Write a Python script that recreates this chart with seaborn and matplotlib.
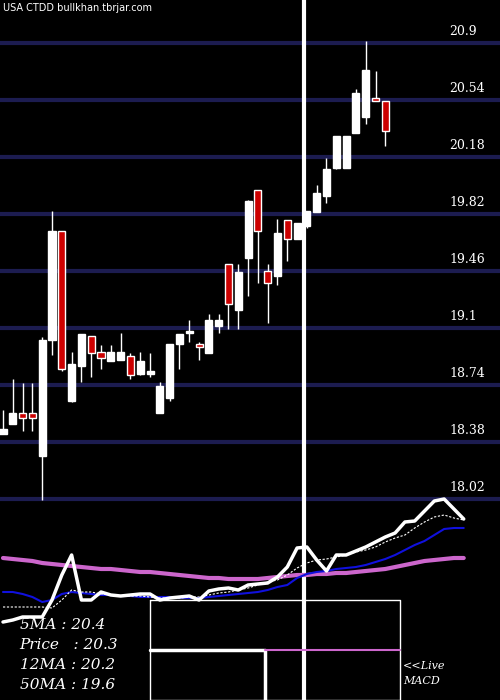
import matplotlib
matplotlib.use("Agg")
import matplotlib.pyplot as plt
import seaborn as sns
import numpy as np
import pandas as pd

opens  = [18.43,18.49,18.56,18.56,18.29,19.02,19.71,18.64,18.86,19.05,18.95,18.89,18.90,18.92,18.81,18.81,18.56,18.66,19.00,19.07,
          19.00,18.94,19.11,19.50,19.21,19.54,19.97,19.46,19.43,19.78,19.66,19.74,19.83,19.93,20.11,20.11,20.33,20.43,20.55,20.53]
closes = [18.46,18.56,18.53,18.53,19.02,19.71,18.84,18.87,19.06,18.94,18.91,18.95,18.95,18.80,18.89,18.83,18.73,19.00,19.06,19.07,
          18.98,19.15,19.15,19.25,19.45,19.90,19.71,19.38,19.70,19.66,19.76,19.84,19.95,20.10,20.31,20.31,20.58,20.73,20.53,20.34]
highs  = [18.58,18.78,18.75,18.75,19.04,19.84,19.71,18.95,19.06,19.05,18.99,18.99,19.07,18.94,18.95,18.94,18.76,19.00,19.06,19.15,
          19.01,19.19,19.19,19.50,19.50,19.91,19.97,19.50,19.79,19.78,19.76,19.84,20.00,20.17,20.31,20.31,20.61,20.91,20.72,20.53]
lows   = [18.43,18.49,18.45,18.45,18.01,18.93,18.83,18.63,18.76,18.79,18.84,18.89,18.90,18.78,18.80,18.79,18.56,18.64,18.84,19.01,
          18.90,18.94,19.07,19.09,19.09,19.30,19.38,19.13,19.37,19.52,19.66,19.73,19.83,19.89,20.10,20.11,20.33,20.39,20.53,20.25]
grid_levels = [20.9,20.54,20.18,19.82,19.46,19.1,18.74,18.38,18.02]

price_line = [78,80,83,83,83,100,125,145,100,100,108,105,104,105,106,106,100,102,103,104,100,109,111,112,110,115,116,117,123,133,152,153,140,129,145,145,149,153,158,163,167,178,179,189,199,201,191,181]
ma12_line = [93,93,93,93,93,92,100,110,108,108,106,105,104,104,104,103,102,102,102,103,103,105,107,108,110,112,115,118,120,125,132,137,140,141,143,145,148,150,153,158,162,165,172,178,183,185,182,180]
ma26_line = [108,108,106,103,98,100,106,108,107,106,105,105,104,104,103,103,103,103,102,102,102,103,104,105,106,107,108,110,113,115,122,126,128,129,131,132,133,135,138,141,145,150,155,159,165,171,172,172]
ma50_line = [142,141,140,139,137,136,135,134,133,132,131,131,130,129,128,128,127,126,125,124,123,122,122,121,121,121,121,122,123,124,125,125,126,126,127,127,128,129,130,131,133,135,137,139,140,141,142,142]

sns.set_style("dark", {"axes.facecolor": "black", "figure.facecolor": "black"})
fig = plt.figure(figsize=(5, 7), dpi=100)
fig.patch.set_facecolor("black")
ax = fig.add_axes([0, 0, 1, 1])
ax.set_facecolor("black")
xl = (-0.306, 50.7)
ax.set_xlim(*xl)
ax.set_ylim(16.75, 21.17)
ax.axis("off")

for g in grid_levels:
    ax.axhline(g, color="#1c1c50", lw=3, zorder=1)
    ax.text(45.5, g + 0.03, f"{g:g}", color="white", fontsize=9, family="DejaVu Serif", va="bottom", zorder=5)

x = np.arange(len(opens))
for i in x:
    o, c, h, l = opens[i], closes[i], highs[i], lows[i]
    ax.vlines(i, l, h, color="white", lw=1, zorder=3)
    lo, hi = min(o, c), max(o, c)
    col = "white" if c >= o else "#cc0000"
    ax.bar(i, max(hi - lo, 0.008), bottom=lo, width=0.72, color=col, edgecolor="white", lw=1, zorder=4)

ax.axvline(30.7, color="white", lw=3, zorder=6)

ax2 = fig.add_axes([0, 0, 1, 1])
ax2.patch.set_alpha(0)
ax2.set_xlim(*xl)
ax2.set_ylim(0, 700)
ax2.axis("off")
idx = np.arange(len(price_line))
df = pd.DataFrame({"i": idx, "p": price_line, "m12": ma12_line, "m26": ma26_line, "m50": ma50_line})
sns.lineplot(data=df, x="i", y="m50", ax=ax2, color="#cc66cc", lw=3)
sns.lineplot(data=df, x="i", y="m26", ax=ax2, color="#1010dd", lw=1.5)
sns.lineplot(data=df, x="i", y="m12", ax=ax2, color="white", lw=0.8, linestyle=(0, (2, 1.5)))
sns.lineplot(data=df, x="i", y="p", ax=ax2, color="white", lw=2.5)

ax2.plot([15, 40.5, 40.5, 15, 15], [100, 100, 0, 0, 100], color="white", lw=1)
ax2.plot([15, 26.7, 26.7], [50, 50, 0], color="white", lw=2.5)
ax2.plot([26.7, 40.5], [50, 50], color="#cc66cc", lw=1.5)

for k, t in enumerate(["5MA : 20.4", "Price   : 20.3", "12MA : 20.2", "50MA : 19.6"]):
    ax2.text(1.7, 75 - 20 * k, t, color="white", fontsize=11, family="DejaVu Serif", style="italic", va="center")
ax2.text(40.8, 34, "<<Live", color="white", fontsize=8, family="DejaVu Serif", style="italic", va="center")
ax2.text(40.8, 19, "MACD", color="white", fontsize=8, family="DejaVu Serif", style="italic", va="center")
ax2.text(0, 692, "USA CTDD bullkhan.tbrjar.com", color="white", fontsize=7, va="center")

fig.savefig("out.png", dpi=100, facecolor="black")
